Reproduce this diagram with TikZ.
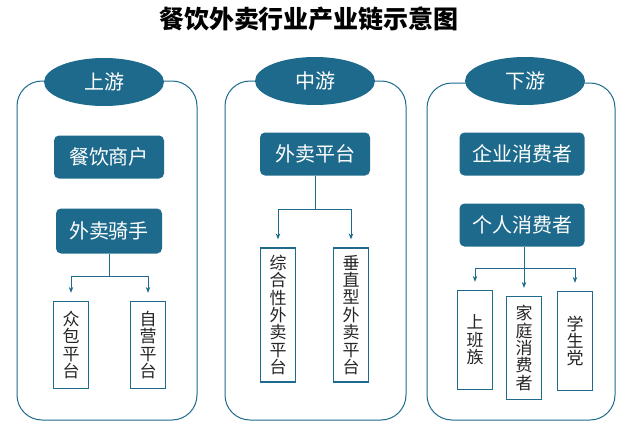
\documentclass[tikz,border=0pt]{standalone}
\usepackage{fontspec}
\newfontfamily\cjk{Noto Sans CJK SC}
\usetikzlibrary{shapes.geometric, arrows.meta, positioning}
\definecolor{chainblue}{HTML}{1D6A8C}
\tikzset{
  stagehead/.style={ellipse, fill=chainblue, text=white, minimum width=120pt, minimum height=48pt, inner sep=0pt, font=\cjk\fontsize{20}{24}\selectfont},
  darkbox/.style={rectangle, rounded corners=5pt, fill=chainblue, text=white, minimum height=43pt, inner sep=0pt, font=\cjk\fontsize{20}{24}\selectfont},
  vbox/.style={rectangle, draw=chainblue, line width=1.2pt, fill=white, text=black!85, align=center, inner sep=0pt, minimum width=35pt, font=\cjk\fontsize{17}{17.4}\selectfont},
  frame/.style={draw=chainblue, line width=1pt, rounded corners=25pt},
  link/.style={draw=chainblue, line width=1pt},
  arr/.style={link, -{Stealth[length=6pt,width=4.5pt]}, shorten >=8pt}
}
\begin{document}
\begin{tikzpicture}[x=1pt, y=-1pt]
  \useasboundingbox (0,0) rectangle (625,431);
  % title
  \node (title) at (309,19) {\cjk\bfseries\fontsize{25}{28}\selectfont 餐饮外卖行业产业链示意图};

  % frames of the three stages
  \draw[frame] (17,81) rectangle (197,420);
  \draw[frame] (225,81) rectangle (406,420);
  \draw[frame] (427,83) rectangle (615,420);

  \node[stagehead] (up) at (104,82) {上游};
  \node[stagehead] (mid) at (315,81) {中游};
  \node[stagehead] (down) at (525,81) {下游};

  % upstream
  \node[darkbox, minimum width=110pt] (merchant) at (109,157) {餐饮商户};
  \node[darkbox, minimum width=106pt, minimum height=45pt] (rider) at (109,231) {外卖骑手};
  \node[vbox, minimum height=87pt] (crowd) at (71,345) {众\\包\\平\\台};
  \node[vbox, minimum height=87pt] (own) at (148,345) {自\\营\\平\\台};
  \coordinate (jup) at (109,276);
  \draw[link] (rider.south) -- (jup);
  \draw[arr] (jup) -| (crowd.north);
  \draw[arr] (jup) -| (own.north);

  % midstream
  \node[darkbox, minimum width=110pt] (platform) at (315,154) {外卖平台};
  \node[vbox, minimum height=134pt] (general) at (278,315) {综\\合\\性\\外\\卖\\平\\台};
  \node[vbox, minimum height=134pt] (vertical) at (351,315) {垂\\直\\型\\外\\卖\\平\\台};
  \coordinate (jmid) at (315,209);
  \draw[link] (platform.south) -- (jmid);
  \draw[arr] (jmid) -| (general.north);
  \draw[arr] (jmid) -| (vertical.north);

  % downstream
  \node[darkbox, minimum width=125pt] (firm) at (522,154) {企业消费者};
  \node[darkbox, minimum width=125pt] (person) at (522,225) {个人消费者};
  \node[vbox, minimum height=99pt] (office) at (475,340) {上\\班\\族};
  \node[vbox, minimum height=103pt] (family) at (524,348) {家\\庭\\消\\费\\者};
  \node[vbox, minimum height=99pt] (student) at (575,341) {学\\生\\党};
  \coordinate (jdown) at (524,268);
  \draw[link] (person.south -| jdown) -- (jdown);
  \draw[arr] (jdown) -| (office.north);
  \draw[arr] (jdown) -- (family.north);
  \draw[arr] (jdown) -| (student.north);
\end{tikzpicture}
\end{document}
